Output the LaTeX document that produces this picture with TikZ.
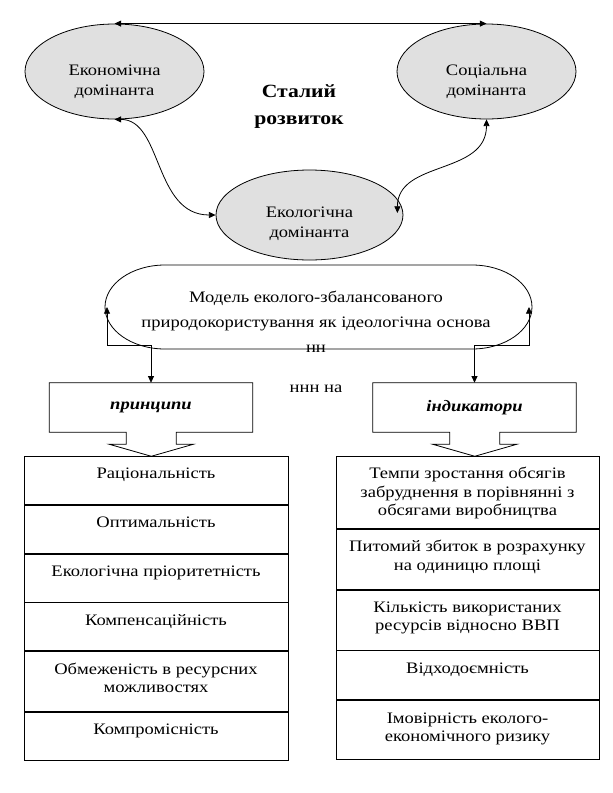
\documentclass[tikz,border=0pt]{standalone}
\usepackage{fontspec}
\setmainfont{Liberation Serif}[FakeStretch=1.16]
\usetikzlibrary{arrows.meta,shapes.geometric}
\definecolor{ellfill}{RGB}{224,224,224}
\newcommand\cellbox[2]{\parbox[c][#1][t]{195pt}{\centering\rule{0pt}{16.9pt}#2\par}}
\newcommand\calloutline[1]{%
  \draw[ln] (#1.south west) -- (#1.north west) -- (#1.north east) -- (#1.south east)
    -- ++(-76.5,0) -- ++(0,12) -- ++(17,0) -- ++(-42,12) -- ++(-42,-12)
    -- ++(17,0) -- ++(0,-12) -- cycle;}
\tikzset{
  ln/.style={line width=0.6pt, black},
  dbl/.style={ln, {Triangle[length=5pt,width=4.5pt]}-{Triangle[length=5pt,width=4.5pt]}},
  ell/.style={ellipse, ln, draw, fill=ellfill, inner sep=0pt},
  elltxt/.style={align=center, inner sep=0pt, font=\fontsize{12pt}{15.5pt}\selectfont},
  titletxt/.style={align=center, inner sep=0pt, font=\fontsize{14pt}{20.25pt}\selectfont\bfseries},
  mtxt/.style={align=center, inner sep=0pt, font=\fontsize{12pt}{18.75pt}\selectfont},
  plain/.style={inner sep=0pt, font=\fontsize{12pt}{13.8pt}\selectfont},
  callbox/.style={rectangle, inner sep=0pt, minimum width=152.25pt, minimum height=36.75pt,
    font=\fontsize{12pt}{13.8pt}\selectfont\bfseries\itshape},
  cellL/.style={rectangle, draw, ln, inner sep=0pt, anchor=north, minimum width=198pt,
    font=\fontsize{12pt}{13.8pt}\selectfont},
  cellR/.style={cellL, minimum width=197.25pt},
}
\begin{document}
\begin{tikzpicture}[x=0.75pt, y=-0.75pt]
\useasboundingbox (0,0) rectangle (613,793);

% ellipses
\node[ell, minimum width=134.25pt, minimum height=71.25pt] (econ) at (114.5,71.5) {};
\node[elltxt] (econT) at ([yshift=-7.3pt]econ.center) {\strut Економічна\\\strut домінанта};
\node[ell, minimum width=134.25pt, minimum height=71.25pt] (soc) at (486.5,71.5) {};
\node[elltxt] (socT) at ([yshift=-7.3pt]soc.center) {\strut Соціальна\\\strut домінанта};
\node[ell, minimum width=140.25pt, minimum height=67.5pt] (eco) at (309.5,215) {};
\node[elltxt] (ecoT) at ([yshift=-6.2pt]eco.center) {\strut Екологічна\\\strut домінанта};
\coordinate (ecoR) at ([shift={(-6,-2)}]eco.east);

\node[titletxt] (sr) at (299,106) {\strut Сталий\\\strut розвиток};

% connectors between ellipses
\draw[dbl] (econ.north) -- (soc.north);
\draw[dbl] (econ.south) .. controls +(48,0) and +(-62,0) .. (eco.west);
\draw[dbl] (soc.south) .. controls +(0,56) and +(0,-53) .. (ecoR);

% model (stadium)
\draw[ln] (165,265) -- (472,265)
  arc[start angle=90, end angle=-90, x radius=45pt, y radius=31.5pt]
  -- (165,349)
  arc[start angle=-90, end angle=-270, x radius=45pt, y radius=31.5pt] -- cycle;
\node[mtxt] (model) at (316,322) {\strut Модель еколого-збалансованого\\\strut природокористування як ідеологічна основа\\\strut нн};
\coordinate (mW) at (107,307);
\coordinate (mE) at (529,307);
\coordinate (lev) at (0,345);

% callout boxes
\node[callbox] (princ) at (151,407.5) {принципи};
\calloutline{princ}
\node[callbox] (ind) at (474.5,407.5) {індикатори};
\calloutline{ind}

\draw[dbl] (mW) |- (princ.north |- lev) -- (princ.north);
\draw[dbl] (mE) |- (ind.north |- lev) -- (ind.north);

\node[plain, anchor=base] (nnn) at (316,392) {ннн на};

% left table
\node[cellL] (l1) at (156,456) {\cellbox{36pt}{Раціональність}};
\node[cellL] (l2) at (l1.south) {\cellbox{36pt}{Оптимальність}};
\node[cellL] (l3) at (l2.south) {\cellbox{36pt}{Екологічна пріоритетність}};
\node[cellL] (l4) at (l3.south) {\cellbox{36pt}{Компенсаційність}};
\node[cellL] (l5) at (l4.south) {\cellbox{45pt}{Обмеженість в ресурсних\\можливостях}};
\node[cellL] (l6) at (l5.south) {\cellbox{36pt}{Компромісність}};

% right table
\node[cellR] (r1) at (467.5,456) {\cellbox{54pt}{Темпи зростання обсягів\\забруднення в порівнянні з\\обсягами виробництва}};
\node[cellR] (r2) at (r1.south) {\cellbox{45pt}{Питомий збиток в розрахунку\\на одиницю площі}};
\node[cellR] (r3) at (r2.south) {\cellbox{45pt}{Кількість використаних\\ресурсів відносно ВВП}};
\node[cellR] (r4) at (r3.south) {\cellbox{36.75pt}{Відходоємність}};
\node[cellR] (r5) at (r4.south) {\cellbox{44.25pt}{Імовірність еколого-\\економічного ризику}};
\end{tikzpicture}
\end{document}
